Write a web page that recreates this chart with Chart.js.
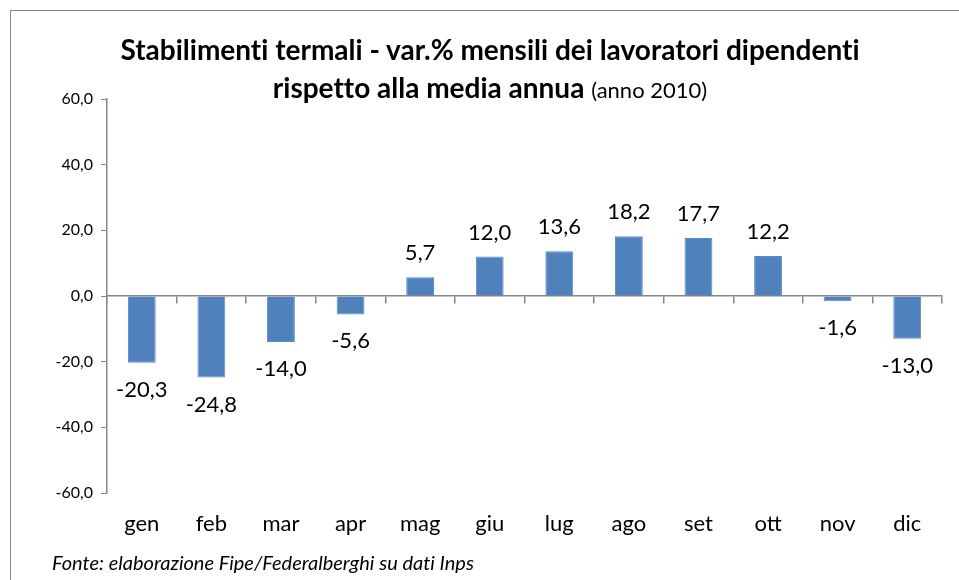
<!DOCTYPE html>
<html>
<head>
<meta charset="utf-8">
<script src="https://cdn.jsdelivr.net/npm/chart.js@4.4.1/dist/chart.umd.min.js"></script>
<style>
  html, body { margin: 0; padding: 0; background: #fff; width: 959px; height: 580px; overflow: hidden; }
  #frame { position: absolute; left: 10px; top: 10px; width: 1000px; height: 620px; border: 1px solid #888; }
  #myChart { position: absolute; left: 0; top: 0; }
  .title { position: absolute; left: 0; width: 980px; text-align: center; font-family: Lato, sans-serif; color: #000; white-space: nowrap; font-variant-ligatures: none; }
  #t1 { top: 32px; font-size: 28px; font-weight: bold; }
  #t2 { top: 70px; font-size: 28px; font-weight: bold; }
  #t2 span { font-weight: normal; font-size: 22px; }
  #source { position: absolute; left: 52px; top: 550px; font-family: Lato, sans-serif; font-style: italic; font-size: 20px; color: #000; font-variant-ligatures: none; }
</style>
</head>
<body>
<div id="frame"></div>
<canvas id="myChart" width="959" height="580"></canvas>
<div class="title" id="t1">Stabilimenti termali - var.% mensili dei lavoratori dipendenti</div>
<div class="title" id="t2">rispetto alla media annua <span>(anno 2010)</span></div>
<div id="source">Fonte: elaborazione Fipe/Federalberghi su dati Inps</div>
<script>
const months = ['gen', 'feb', 'mar', 'apr', 'mag', 'giu', 'lug', 'ago', 'set', 'ott', 'nov', 'dic'];
const variations = [-20.3, -24.8, -14.0, -5.6, 5.7, 12.0, 13.6, 18.2, 17.7, 12.2, -1.6, -13.0];
const yTicks = [-60, -40, -20, 0, 20, 40, 60];

const fmt = v => v.toFixed(1).replace('.', ',');

// value labels above positive bars, below negative ones
const barLabels = {
    id: 'barLabels',
    afterDatasetsDraw(chart) {
        const ctx = chart.ctx;
        const meta = chart.getDatasetMeta(0);
        ctx.save();
        ctx.font = '22px Lato';
        ctx.fillStyle = '#000';
        ctx.textAlign = 'center';
        ctx.textBaseline = 'middle';
        meta.data.forEach((bar, i) => {
            const v = variations[i];
            const y = v >= 0 ? bar.y - 24 : bar.y + 27;
            ctx.fillText(fmt(v), bar.x, y);
        });
        ctx.restore();
    }
};

const axisColor = '#868686';

new Chart(document.getElementById('myChart'), {
    type: 'bar',
    data: {
        labels: months,
        datasets: [{
            data: variations,
            backgroundColor: '#4F81BD',
            borderColor: '#5b8cc6',
            borderWidth: 1,
            barPercentage: 0.8,
            categoryPercentage: 0.5,
            xAxisID: 'x'
        }]
    },
    options: {
        responsive: false,
        animation: false,
        layout: { padding: { left: 0, top: 99, right: 17, bottom: 0 } },
        plugins: {
            legend: { display: false },
            title: { display: false },
            tooltip: { enabled: false }
        },
        scales: {
            y: {
                min: -60,
                max: 60,
                afterBuildTicks: scale => { scale.ticks = yTicks.map(v => ({ value: v })); },
                afterFit: scale => { scale.width = 107; },
                ticks: {
                    callback: v => fmt(v),
                    color: '#000',
                    font: { family: 'Lato', size: 16 },
                    padding: 8
                },
                grid: { drawOnChartArea: false, tickLength: 6, color: axisColor },
                border: { color: axisColor, width: 1.5 }
            },
            x: {
                position: { y: 0 },
                offset: true,
                ticks: { display: false },
                grid: { offset: true, drawOnChartArea: false, tickLength: 7, color: axisColor, lineWidth: 1.5 },
                border: { color: axisColor, width: 1.5 }
            },
            x2: {
                type: 'category',
                position: 'bottom',
                offset: true,
                afterFit: scale => { scale.height = 87; },
                ticks: {
                    color: '#000',
                    font: { family: 'Lato', size: 22 },
                    padding: 18
                },
                grid: { display: false, drawTicks: false },
                border: { display: false }
            }
        }
    },
    plugins: [barLabels]
});
</script>
</body>
</html>
